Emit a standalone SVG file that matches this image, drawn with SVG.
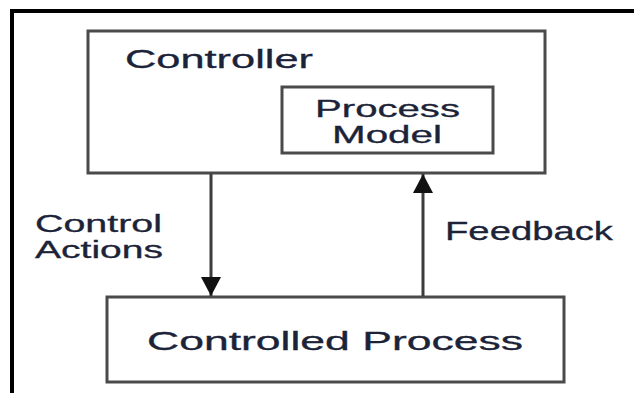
<svg xmlns="http://www.w3.org/2000/svg" width="634" height="393" viewBox="0 0 634 393">
  <style>
    .box { fill: #ffffff; stroke: #4a4a4a; stroke-width: 3; }
    .edge { fill: none; stroke: #3c3c3c; stroke-width: 3; }
    .lbl { font-family: "Liberation Sans", Arial, sans-serif; font-size: 25px; fill: #1c2338; stroke: #1c2338; stroke-width: 0.3; }
    .two { font-size: 23px; }
    .frame { fill: none; stroke: #000000; stroke-width: 4; }
  </style>
  <defs>
    <marker id="head" markerUnits="userSpaceOnUse" markerWidth="22" markerHeight="20" refX="19" refY="10" orient="auto">
      <path d="M0,0 L19,10 L0,20 Z" fill="#111111"/>
    </marker>
  </defs>
  <rect width="634" height="393" fill="#ffffff"/>
  <!-- page frame: top and left rules -->
  <path class="frame" d="M12,393 V11 H634"/>

  <g id="controller">
    <rect class="box" x="88" y="31" width="457" height="142"/>
    <text class="lbl" x="125" y="68" textLength="188" lengthAdjust="spacingAndGlyphs">Controller</text>
  </g>

  <g id="process-model">
    <rect class="box" x="282" y="87" width="211" height="66"/>
    <text class="lbl two" x="315" y="117" textLength="145" lengthAdjust="spacingAndGlyphs">Process</text>
    <text class="lbl two" x="332" y="143" textLength="110" lengthAdjust="spacingAndGlyphs">Model</text>
  </g>

  <g id="controlled-process">
    <rect class="box" x="107" y="297" width="457" height="85"/>
    <text class="lbl" x="147" y="350" textLength="376" lengthAdjust="spacingAndGlyphs">Controlled Process</text>
  </g>

  <g id="connectors">
    <line class="edge" x1="211" y1="174" x2="211" y2="296" marker-end="url(#head)"/>
    <line class="edge" x1="423" y1="296" x2="423" y2="174" marker-end="url(#head)"/>
    <text class="lbl two" x="35" y="232" textLength="127" lengthAdjust="spacingAndGlyphs">Control</text>
    <text class="lbl two" x="35" y="258" textLength="128" lengthAdjust="spacingAndGlyphs">Actions</text>
    <text class="lbl" x="445" y="240" textLength="168" lengthAdjust="spacingAndGlyphs">Feedback</text>
  </g>
</svg>
